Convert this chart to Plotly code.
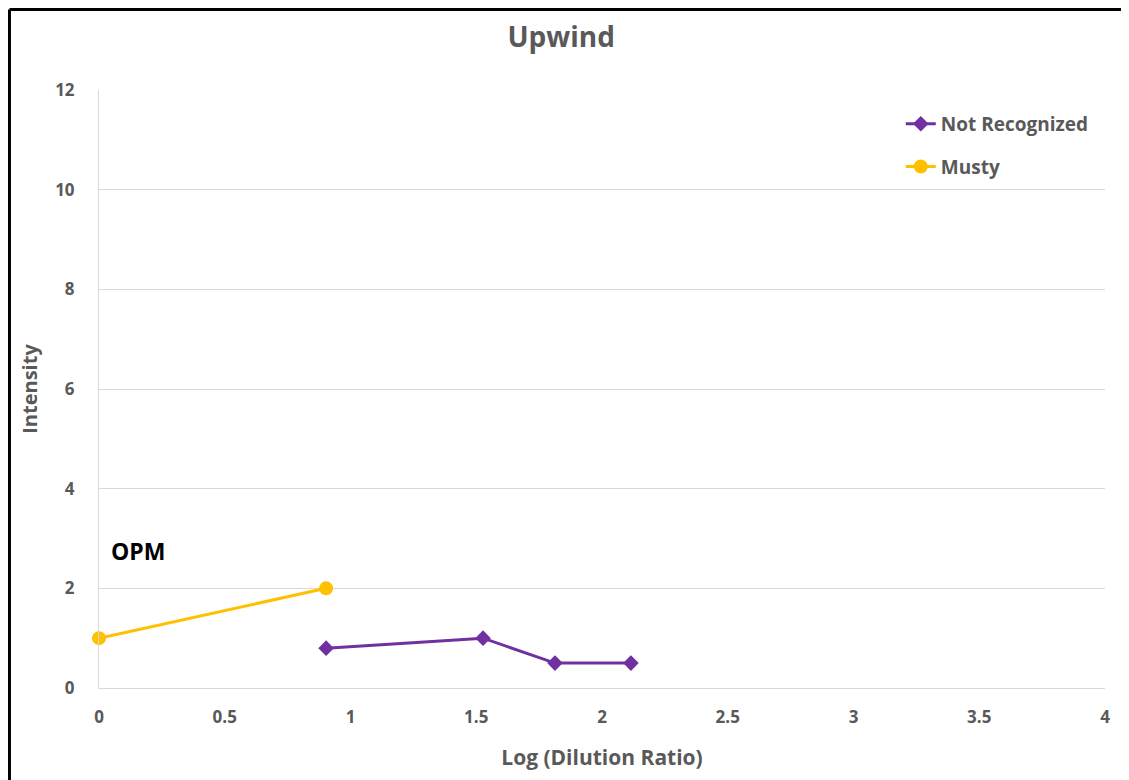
import plotly.graph_objects as go

nr_x = [0.903, 1.527, 1.813, 2.115]
nr_y = [0.8, 1.0, 0.5, 0.5]
musty_x = [0.0, 0.903]
musty_y = [1.0, 2.0]

x_ticks = [0, 0.5, 1, 1.5, 2, 2.5, 3, 3.5, 4]
y_ticks = [0, 2, 4, 6, 8, 10, 12]

FONT = "Open Sans"
GRAY = "#595959"

fig = go.Figure()
fig.add_trace(go.Scatter(x=nr_x, y=nr_y, mode="lines+markers", name="<b>Not Recognized</b>",
                         legendgroup="a", cliponaxis=False,
                         line=dict(color="#7030A0", width=3),
                         marker=dict(symbol="diamond", size=12, color="#7030A0")))
fig.add_trace(go.Scatter(x=musty_x, y=musty_y, mode="lines+markers", name="<b>Musty</b>",
                         legendgroup="b", cliponaxis=False,
                         line=dict(color="#FFC000", width=3),
                         marker=dict(symbol="circle", size=14, color="#FFC000")))

fig.update_layout(
    width=1129, height=780,
    paper_bgcolor="white", plot_bgcolor="white",
    margin=dict(l=91, r=32, t=82, b=100),
    title=dict(text="<b>Upwind</b>", x=0.49, xanchor="center", y=0.962, yanchor="middle",
               font=dict(family=FONT, size=28, color=GRAY)),
    font=dict(family=FONT, color=GRAY),
    xaxis=dict(range=[0, 4], tickvals=x_ticks, ticktext=[f"<b>{t:g}</b>" for t in x_ticks],
               showgrid=False, zeroline=False, showline=True, linecolor="#D9D9D9", linewidth=1,
               tickfont=dict(size=17, color=GRAY), ticks="", ticklabelstandoff=14,
               title=dict(text="<b>Log (Dilution Ratio)</b>", font=dict(size=21, color=GRAY), standoff=22)),
    yaxis=dict(range=[0, 12], tickvals=y_ticks, ticktext=[f"<b>{t}</b>" for t in y_ticks],
               showgrid=True, gridcolor="#D9D9D9", gridwidth=1, zeroline=False,
               showline=True, linecolor="#D9D9D9", linewidth=1,
               tickfont=dict(size=17, color=GRAY), ticks="", ticklabelstandoff=20,
               title=dict(text="<b>Intensity</b>", font=dict(size=20, color=GRAY), standoff=12)),
    legend=dict(x=0.797, y=0.975, xanchor="left", yanchor="top", bgcolor="rgba(0,0,0,0)",
                font=dict(size=19, color=GRAY), tracegroupgap=15, traceorder="grouped"),
    showlegend=True,
)

fig.add_annotation(x=0.04, y=2.75, xref="x", yref="y", text="<b>OPM</b>", showarrow=False,
                   xanchor="left", yanchor="middle", font=dict(family=FONT, size=23, color="black"))

fig.add_shape(type="line", xref="paper", yref="paper", x0=-0.089, x1=1.2, y0=1.1346, y1=1.1346,
              line=dict(color="black", width=3), layer="above")
fig.add_shape(type="line", xref="paper", yref="paper", x0=-0.089, x1=-0.089, y0=-0.3, y1=1.1346,
              line=dict(color="black", width=3), layer="above")

fig.write_html("out.html")
